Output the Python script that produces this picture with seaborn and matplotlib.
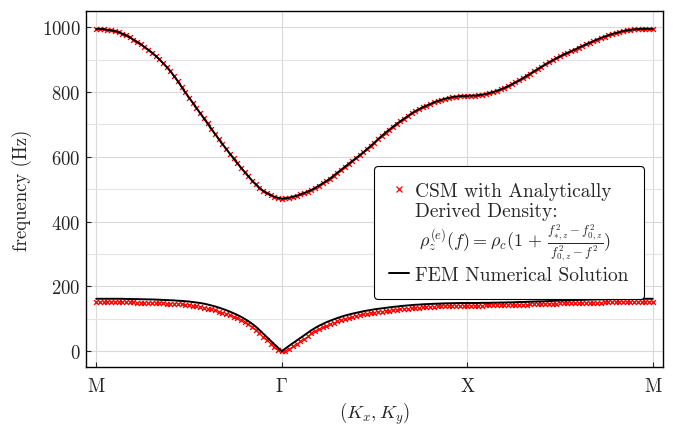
import numpy as np
import matplotlib
matplotlib.use('Agg')
import matplotlib.pyplot as plt
import seaborn as sns
from matplotlib.lines import Line2D
from matplotlib.ticker import MultipleLocator

# high-symmetry points along the path M -> Gamma -> X -> M
sym_labels = ['M', r'$\Gamma$', 'X', 'M']
sym_pos = [0, 1, 2, 3]

# upper band (Hz), FEM solution in steps of 0.02 along the path
fem_upper = (
    # M -> Gamma
    [995, 995, 994, 992, 990, 988, 985, 980, 975, 969, 962, 955, 947, 939, 931, 922, 912,
     901, 889, 877, 864, 849, 833, 816, 799, 783, 767, 751, 735, 719, 703, 687, 671, 655,
     640, 625, 610, 595, 581, 567, 553, 540, 527, 515, 504, 495, 488, 482, 477, 473, 471]
    # Gamma -> X
    + [472, 474, 477, 480, 484, 488, 493, 498, 504, 511, 518, 525, 533, 542, 551, 560, 569,
       578, 587, 596, 605, 614, 624, 634, 644, 655, 665, 675, 684, 693, 702, 710, 718, 726,
       734, 741, 747, 753, 758, 763, 768, 772, 776, 779, 782, 784, 786, 787, 788, 788]
    # X -> M
    + [789, 789, 790, 792, 794, 797, 800, 804, 808, 813, 818, 824, 830, 836, 843, 850, 857,
       864, 871, 878, 885, 892, 898, 904, 910, 916, 921, 926, 931, 937, 942, 947, 952, 957,
       962, 967, 971, 975, 979, 982, 985, 988, 990, 992, 993, 994, 995, 995, 995, 995]
)
# CSM upper band sits right on top of the FEM one
csm_upper = list(fem_upper)

# lower band (Hz), FEM solution
fem_lower = (
    [162, 162, 162, 162, 162, 162, 162, 162, 161.5, 161.5, 161, 161, 160.5, 160.5, 160, 160,
     159.5, 159, 158.5, 158, 157.5, 157, 156, 155.5, 154.5, 153.5, 152, 150.5, 149, 147,
     144.5, 141.5, 138.5, 135, 131, 127, 122.5, 117.5, 112.5, 106.5, 100, 93, 85, 76, 65.5,
     54.5, 43.5, 32.5, 21.5, 11, 0]
    + [8.5, 17, 25, 33, 41, 49, 57, 65, 72, 78.5, 84, 89.5, 94, 98.5, 102.5, 106.5, 110, 113,
       116, 118.5, 121, 123.5, 125.5, 127.5, 129.5, 131, 132.5, 134, 135.5, 137, 138, 139.5,
       140.5, 141.5, 142.5, 143.5, 144, 145, 145.5, 146, 146.5, 147, 147.5, 148, 148, 148.5,
       148.5, 149, 149, 149]
    + [149, 149, 149, 149.5, 149.5, 149.5, 150, 150, 150.5, 150.5, 151, 151, 151.5, 152, 152,
       152.5, 153, 153.5, 154, 154, 154.5, 155, 155.5, 156, 156.5, 157, 157, 157.5, 158,
       158.5, 158.5, 159, 159.5, 159.5, 160, 160, 160.5, 160.5, 161, 161, 161, 161.5, 161.5,
       161.5, 162, 162, 162, 162, 162, 162]
)

# lower band (Hz), CSM with analytically derived density
csm_lower = (
    [152, 152, 152, 152, 152, 152, 152, 151.5, 151.5, 151, 151, 150.5, 150.5, 150, 149.5,
     149.5, 149, 148.5, 148, 147, 146.5, 146, 145, 144.5, 143.5, 142.5, 141, 139.5, 137.5,
     135, 132, 129, 126, 122.5, 119, 115.5, 111.5, 107, 102.5, 97, 90.5, 83.5, 75.5, 66.5,
     56, 45, 34, 23, 12.5, 4, 0]
    + [1, 7, 15, 23, 31, 39, 47, 55, 62, 68.5, 74, 79.5, 84, 88.5, 92.5, 96.5, 100, 103, 106,
       108.5, 111, 113.5, 115.5, 117.5, 119.5, 121, 122.5, 124, 125.5, 127, 128.5, 129.5,
       131, 132, 133, 134, 135, 136, 136.5, 137.5, 138, 138.5, 139, 139.5, 140, 140.5,
       140.5, 141, 141, 141]
    + [141, 141, 141, 141, 141.5, 141.5, 141.5, 142, 142, 142.5, 142.5, 143, 143, 143.5, 144,
       144, 144.5, 145, 145.5, 145.5, 146, 146.5, 147, 147, 147.5, 148, 148, 148.5, 149, 149,
       149.5, 149.5, 150, 150, 150.5, 150.5, 151, 151, 151, 151.5, 151.5, 151.5, 152, 152,
       152, 152, 152, 152, 152, 152]
)

# path coordinate, uniform sampling along M-Gamma-X-M
k_path = np.linspace(sym_pos[0], sym_pos[-1], len(fem_upper))

sns.set_style('ticks')
plt.rcParams['font.family'] = ['cmr10']
plt.rcParams['mathtext.fontset'] = 'cm'
plt.rcParams['axes.formatter.use_mathtext'] = True
plt.rcParams['axes.unicode_minus'] = False

fig = plt.figure(figsize=(6.73, 4.27), dpi=100)
ax = fig.add_axes([0.1273, 0.1375, 0.8583, 0.8351])

# CSM markers
for band in (csm_upper, csm_lower):
    sns.scatterplot(x=k_path, y=band, marker='x', color='red', s=12, linewidth=0.95,
                    ax=ax, zorder=2)

# FEM lines
for band in (fem_upper, fem_lower):
    sns.lineplot(x=k_path, y=band, color='black', linewidth=1.4, ax=ax, zorder=3,
                 estimator=None, sort=False)

ax.set_xlim(-0.057, 3.057)
ax.set_ylim(-49.4, 1051)
ax.set_xticks(sym_pos)
ax.set_xticklabels(sym_labels)
ax.yaxis.set_major_locator(MultipleLocator(200))
ax.yaxis.set_minor_locator(MultipleLocator(100))

ax.grid(which='major', color='#d9d9d9', linewidth=0.8)
ax.grid(which='minor', axis='y', color='#e4e4e4', linewidth=0.8)
ax.set_axisbelow(True)

ax.tick_params(which='major', direction='in', length=3.6, width=0.8, labelsize=13.5)
ax.tick_params(axis='x', pad=7)
ax.tick_params(axis='y', pad=3.5)
ax.tick_params(which='minor', length=0)
for sp in ax.spines.values():
    sp.set_visible(True)
    sp.set_linewidth(1.0)
    sp.set_color('black')

ax.set_xlabel(r'$(K_x,K_y)$', fontsize=13.5, labelpad=3)
ax.set_ylabel('frequency (Hz)', fontsize=13.5, labelpad=7)

formula = (r'$\;\rho_z^{(e)}(f) = \rho_c(1\,+\,'
           r'\frac{f_{*,z}^2 - f_{0,z}^2}{f_{0,z}^2 - f^2})$')
handles = [Line2D([], [], marker='x', color='red', linestyle='none', markersize=4,
                  markeredgewidth=0.9),
           Line2D([], [], linestyle='none'),
           Line2D([], [], linestyle='none'),
           Line2D([], [], color='black', linewidth=1.4)]
labels = ['CSM with Analytically', 'Derived Density:', formula, 'FEM Numerical Solution']
leg = ax.legend(handles, labels, loc='upper left', bbox_to_anchor=(0.499, 0.5645),
                borderaxespad=0, fancybox=True, framealpha=1, edgecolor='black',
                fontsize=14, handlelength=1.0, handletextpad=0.3, labelspacing=0.12,
                borderpad=0.8)
leg.get_frame().set_linewidth(0.8)
leg.get_texts()[2].set_fontsize(13)

fig.savefig('out.png', dpi=100)
